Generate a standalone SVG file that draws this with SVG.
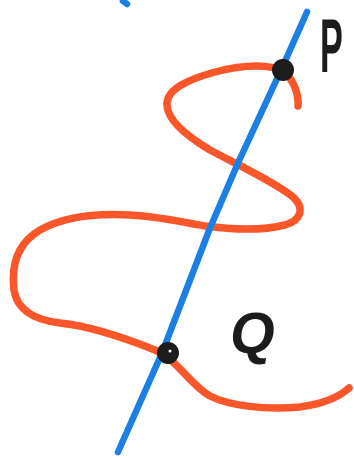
<svg xmlns="http://www.w3.org/2000/svg" width="354" height="458" viewBox="0 0 354 458">
<style>
.red{fill:none;stroke:#f9562a;stroke-width:7.5;stroke-linecap:round;stroke-linejoin:round}
.blue{fill:none;stroke:#1b7fe3;stroke-width:6.5;stroke-linecap:round;stroke-linejoin:round}
.dot{fill:#1c1c1c}
.lbl{font-family:"Liberation Sans",Arial,sans-serif;font-weight:bold;fill:#1c1c1c}
</style>
<rect width="354" height="458" fill="#ffffff"/>
<g id="connectors">
<path id="curve" class="red" d="M298,106 C299,95 294,80 284,72 C272,64 245,64 215,72 C190,79 168,88 167,103 C166,118 185,135 210,150 C240,166 280,185 294,198 C304,208 302,220 285,225 C265,230 235,230 205,226 C185,223 165,217 130,215 C95,213 65,216 40,230 C18,243 11,265 14,290 C17,310 35,320 60,323 C90,326 120,336 155,350 C178,360 190,385 210,396 C230,406 265,410 300,407 C322,404 338,398 349,388"/>
<path id="line" class="blue" d="M307,12 L282,68 L238,163 L210,228 L162,353 L118,452"/>
<path class="blue" d="M123,1 L127,4" stroke-width="3"/>
</g>
<g id="P">
<circle class="dot" cx="283" cy="70" r="11"/>
<text class="lbl" x="0" y="0" font-size="36" transform="translate(320,72) scale(0.95,2.1)">P</text>
</g>
<g id="Q">
<circle class="dot" cx="168" cy="353" r="11"/>
<circle cx="170" cy="351" r="1.5" fill="#ffffff"/>
<text class="lbl" x="0" y="0" font-size="58" transform="translate(228,353) skewX(-8)">Q</text>
</g>
</svg>
